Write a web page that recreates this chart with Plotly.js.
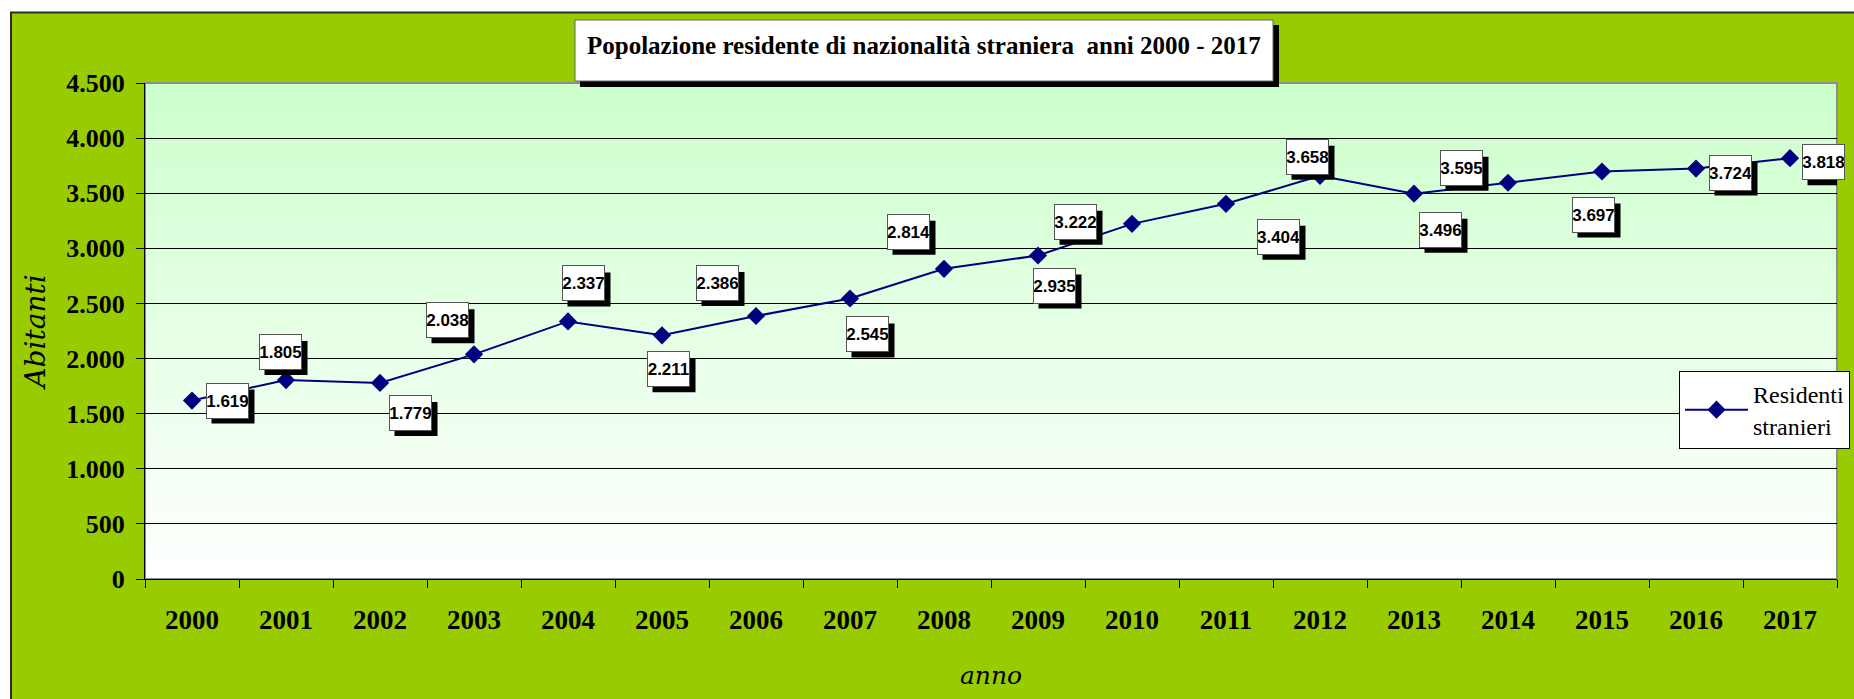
<!DOCTYPE html>
<html>
<head>
<meta charset="utf-8">
<script src="https://cdn.plot.ly/plotly-3.0.1.min.js"></script>
<style>html,body{margin:0;padding:0;background:#fff;}#chart{width:1854px;height:699px;}</style>
</head>
<body>
<div id="chart"></div>
<script>
// ---- data ----
const years = ['2000','2001','2002','2003','2004','2005','2006','2007','2008','2009','2010','2011','2012','2013','2014','2015','2016','2017'];
const residents = [1619,1805,1779,2038,2337,2211,2386,2545,2814,2935,3222,3404,3658,3496,3595,3697,3724,3818];
const seriesName = 'Residenti<br>stranieri';
const chartTitle = 'Popolazione residente di nazionalità straniera\u00a0 anni 2000 - 2017';
const xTitle = 'anno';
const yTitle = 'Abitanti';

// label offsets (px) relative to each point: [dx, dy(down)]
const labelDx = [35,-6,30,-27,15,6,-39,17,-36,16,-57,52,-13,26,-47,-9,34,33];
const labelDy = [0,-28,30,-34,-38,34,-33,36,-37,30,-2,33,-19,36,-15,43,4,4];

// ---- geometry helpers ----
const W = 1854, H = 699;
const PL = 145, PT = 83, PR = 1837, PB = 579;
const PW = PR - PL, PH = PB - PT;
const px = x => (x - PL) / PW;
const py = y => (PB - y) / PH;

function fmt(v){ return String(v).replace(/\B(?=(\d{3})+(?!\d))/g, '.'); }

const gradSvg = '<svg xmlns="http://www.w3.org/2000/svg" width="100" height="100" preserveAspectRatio="none">' +
  '<defs><linearGradient id="g" x1="0" y1="0" x2="0" y2="1">' +
  '<stop offset="0" stop-color="#ccffcc"/><stop offset="1" stop-color="#ffffff"/></linearGradient></defs>' +
  '<rect width="100" height="100" fill="url(#g)"/></svg>';
const gradSrc = 'data:image/svg+xml;charset=utf-8,' + encodeURIComponent(gradSvg);

const trace = {
  type: 'scatter', mode: 'lines+markers',
  x: years, y: residents, name: seriesName,
  line: {color: '#000080', width: 2},
  marker: {symbol: 'diamond', size: 14, color: '#000080'},
  hoverinfo: 'x+y'
};

const BOXW = 43, BOXH = 34, SH = 6;
const labelFont = {family: 'Liberation Sans, Arial, sans-serif', size: 17, color: '#000'};
const annotations = [];
const shapes = [
  {type: 'rect', xref: 'paper', yref: 'paper', x0: px(-5), x1: px(W + 5), y0: py(12), y1: py(-5), fillcolor: '#fff', line: {width: 0}, layer: 'below'},
  {type: 'rect', xref: 'paper', yref: 'paper', x0: px(-5), x1: px(10), y0: py(H + 5), y1: py(-5), fillcolor: '#fff', line: {width: 0}, layer: 'below'},
  {type: 'line', xref: 'paper', yref: 'paper', x0: px(10), x1: px(W + 5), y0: py(12.5), y1: py(12.5), line: {color: '#2b2b2b', width: 2}, layer: 'below'},
  {type: 'line', xref: 'paper', yref: 'paper', x0: px(11), x1: px(11), y0: py(12), y1: py(H + 5), line: {color: '#2b2b2b', width: 2}, layer: 'below'},
  {type: 'rect', xref: 'paper', yref: 'paper', x0: 0, x1: 1, y0: 0, y1: 1, line: {color: '#8c8c8c', width: 2}, layer: 'below'},
  {type: 'rect', xref: 'paper', yref: 'paper', x0: px(580), x1: px(1279), y0: py(87), y1: py(25), fillcolor: '#000', line: {width: 0}, layer: 'above'},
  {type: 'rect', xref: 'paper', yref: 'paper', x0: px(575), x1: px(1273), y0: py(81), y1: py(20), fillcolor: '#fff', line: {color: '#666', width: 1}, layer: 'above'}
];

years.forEach((yr, i) => {
  // drop shadow of each data label, anchored to its point in pixel units
  const cx = labelDx[i] + SH, cy = -(labelDy[i] + SH);
  shapes.push({
    type: 'rect', xref: 'x', yref: 'y', xsizemode: 'pixel', ysizemode: 'pixel',
    xanchor: i, yanchor: residents[i],
    x0: cx - BOXW / 2, x1: cx + BOXW / 2, y0: cy - BOXH / 2, y1: cy + BOXH / 2,
    fillcolor: '#000', line: {width: 0}, layer: 'above'
  });
  annotations.push({
    x: i, y: residents[i], xref: 'x', yref: 'y', showarrow: false,
    text: '<b>' + fmt(residents[i]) + '</b>', font: labelFont,
    bgcolor: '#fff', bordercolor: '#555', borderwidth: 1, borderpad: 0,
    width: BOXW - 2, height: BOXH,
    xshift: labelDx[i], yshift: -labelDy[i]
  });
});
// chart title text
annotations.push({
  xref: 'paper', yref: 'paper', x: px(924), y: py(46), xanchor: 'center', yanchor: 'middle',
  showarrow: false, text: '<b>' + chartTitle + '</b>',
  font: {family: 'Liberation Serif, Times New Roman, serif', size: 25, color: '#000'}
});

const layout = {
  width: W, height: H,
  margin: {l: PL, r: W - PR, t: PT, b: H - PB, autoexpand: false},
  paper_bgcolor: '#99cc00',
  plot_bgcolor: 'rgba(0,0,0,0)',
  separators: ',.',
  showlegend: true,
  legend: {
    x: px(1679), y: py(371), xanchor: 'left', yanchor: 'top',
    bgcolor: '#fff', bordercolor: '#000', borderwidth: 1,
    font: {family: 'Liberation Serif, Times New Roman, serif', size: 24, color: '#000'},
    itemwidth: 63, valign: 'middle'
  },
  xaxis: {
    type: 'category', tickson: 'boundaries', ticks: 'outside', ticklen: 8, tickcolor: '#000', tickwidth: 1,
    showline: true, linecolor: '#000', linewidth: 1, showgrid: false, zeroline: false,
    range: [-0.5, 17.5], fixedrange: true,
    tickfont: {family: 'Liberation Serif, Times New Roman, serif', size: 27, color: '#000', weight: 'bold'},
    ticklabelstandoff: 17,
    title: {text: xTitle, standoff: 32, font: {family: 'DejaVu Serif, serif', size: 25, color: '#000', style: 'italic'}}
  },
  yaxis: {
    range: [0, 4500], dtick: 500, tick0: 0, tickformat: ',d',
    ticks: 'outside', ticklen: 8, tickcolor: '#000', tickwidth: 1,
    showline: true, linecolor: '#000', linewidth: 1,
    showgrid: true, gridcolor: '#000', gridwidth: 1, zeroline: false, fixedrange: true,
    tickfont: {family: 'Liberation Serif, Times New Roman, serif', size: 26, color: '#000', weight: 'bold'},
    ticklabelstandoff: 6,
    title: {text: yTitle, standoff: 12, font: {family: 'DejaVu Serif, serif', size: 28, color: '#000', style: 'italic'}}
  },
  images: [{source: gradSrc, xref: 'paper', yref: 'paper', x: 0, y: 1, sizex: 1, sizey: 1, sizing: 'stretch', xanchor: 'left', yanchor: 'top', layer: 'below'}],
  shapes: shapes,
  annotations: annotations
};

Plotly.newPlot('chart', [trace], layout, {displayModeBar: false});
</script>
</body>
</html>
